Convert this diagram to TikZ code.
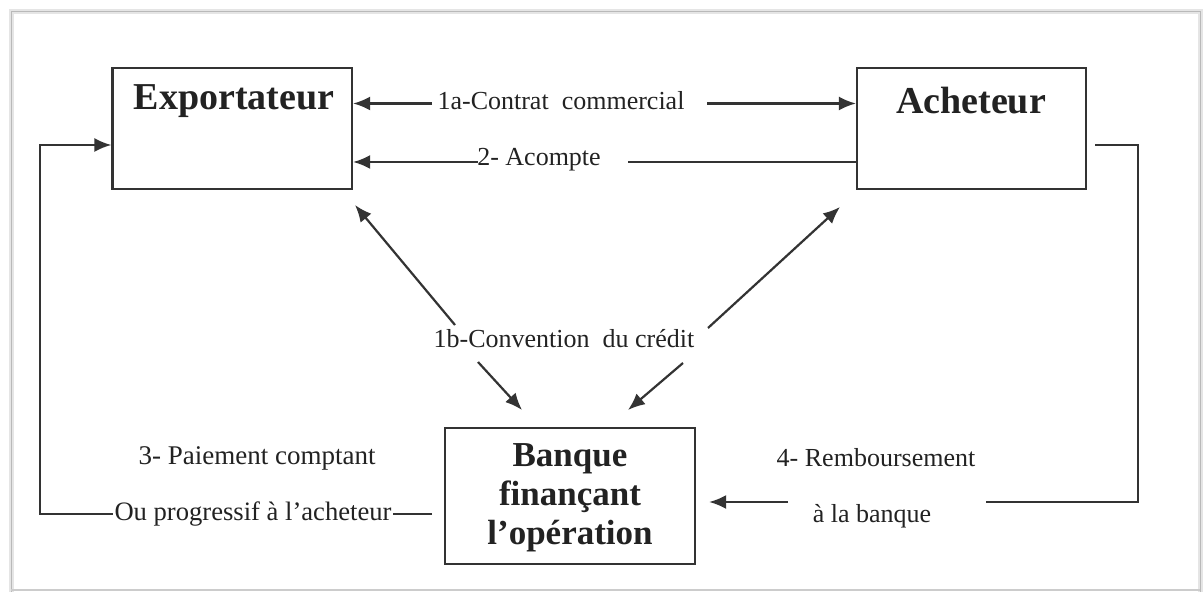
\documentclass[tikz,border=0pt]{standalone}
\usepackage{fontspec}
\setmainfont{Liberation Serif}
\usetikzlibrary{arrows.meta}
\definecolor{ink}{HTML}{333333}
\definecolor{txt}{HTML}{222222}
\begin{document}
\begin{tikzpicture}[x=0.5pt,y=-0.5pt,
  boxnode/.style={draw=ink,line width=1.1pt,rectangle,inner sep=0pt},
  titletxt/.style={font=\fontsize{19}{22}\selectfont\bfseries,text=txt,inner sep=0pt},
  lbl/.style={font=\fontsize{13}{15}\selectfont,text=txt,inner sep=0pt},
  conn/.style={draw=ink,line width=1.1pt},
  arr/.style={conn,-{Latex[length=8.5pt,width=7pt]}}]
\useasboundingbox (0,0) rectangle (1203,592);
% page frame
\draw[gray!20,line width=2.5pt] (11,600) -- (11,12) -- (1200,12) -- (1200,600);
\draw[gray!55,line width=0.5pt] (11,600) -- (11,12) -- (1200,12) -- (1200,600);
\draw[gray!40,line width=0.6pt] (11,590) -- (1200,590);

% boxes
\node[boxnode,minimum width=119.75pt,minimum height=60.5pt] (exp) at (232.25,128.5) {};
\node[boxnode,minimum width=114.5pt,minimum height=60.5pt] (ach) at (971.5,128.5) {};
\node[boxnode,minimum width=125pt,minimum height=68pt] (ban) at (570,496) {};

\node[titletxt] (expt) at (234,101) {Exportateur};
\node[titletxt] (acht) at (971,101) {Acheteur};
\node[font=\fontsize{17.5}{19.5}\selectfont\bfseries,text=txt,align=center,inner sep=0pt] (bant) at (570,498) {Banque\\finançant\\l’opération};

% labels
\node[lbl] (l1a) at (561,101) {1a-Contrat\ \ commercial};
\node[lbl] (l2) at (539,160) {2- Acompte};
\node[lbl] (l1b) at (564,339) {1b-Convention\ \ du crédit};
\node[lbl,font=\fontsize{13.5}{15}\selectfont] (l3a) at (257,458) {3- Paiement\ comptant};
\node[lbl] (l4a) at (876,458) {4- Remboursement};
\node[lbl] (l4b) at (872,516) {à la banque};

% coordinates
\coordinate (c1aL) at (432,103.5);
\coordinate (c1aR) at (707,103.5);
\coordinate (c2L) at (478,162);
\coordinate (c2R) at (628,162);
\coordinate (c3) at (432,514);
\coordinate (k1) at (40,145);
\coordinate (c4S) at (1095,145);
\coordinate (k2) at (1138,502);
\coordinate (c4E) at (986,502);
\coordinate (c4A) at (788,502);
\coordinate (d1s) at (455,325);
\coordinate (d1t) at (355,205);
\coordinate (d2s) at (708,328);
\coordinate (d2t) at (840,207);
\coordinate (d3s) at (478,362);
\coordinate (d3t) at (522,410);
\coordinate (d4s) at (683,363);
\coordinate (d4t) at (628,410);

% connectors
\draw[arr] (c1aL) -- (exp.east |- c1aL);
\draw[arr] (c1aR) -- (ach.west |- c1aR);
\draw[conn] (ach.west |- c2R) -- (c2R);
\draw[arr] (c2L) -- (exp.east |- c2L);
\draw[arr] (c3) -| (k1) -- (exp.west |- k1);
\node[lbl,fill=white,inner sep=1pt] (l3b) at (253,514) {\fontsize{13.3}{15}\selectfont Ou progressif à l’acheteur};
\draw[conn] (c4S) -| (k2) -- (c4E);
\draw[arr,shorten >=6.5pt] (c4A) -- (ban.east |- c4A);
\draw[arr] (d1s) -- (d1t);
\draw[arr] (d2s) -- (d2t);
\draw[arr] (d3s) -- (d3t);
\draw[arr] (d4s) -- (d4t);
\end{tikzpicture}
\end{document}
